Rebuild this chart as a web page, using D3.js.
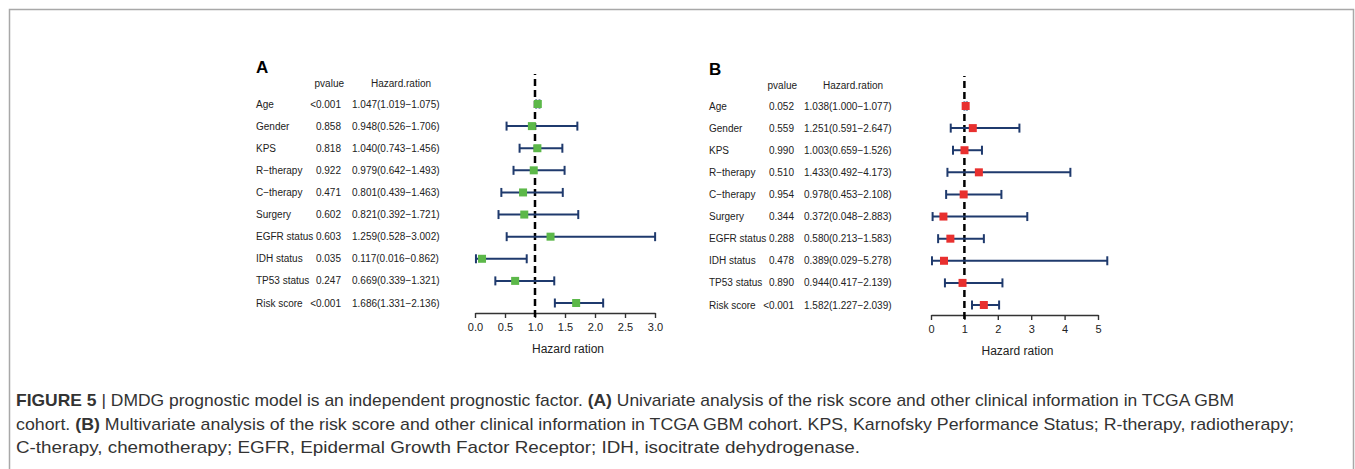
<!DOCTYPE html>
<html>
<head>
<meta charset="utf-8">
<script src="https://cdn.jsdelivr.net/npm/d3@7"></script>
<style>
  body { margin: 0; background: #fff; }
  svg { display: block; font-family: "Liberation Sans", Arial, sans-serif; }
</style>
</head>
<body>
<div id="chart"></div>
<script>
// row labels shared by both panels
const variables = ["Age", "Gender", "KPS", "R\u2212therapy", "C\u2212therapy", "Surgery",
  "EGFR status", "IDH status", "TP53 status", "Risk score"];

// panel A: univariate
const pvalA = ["<0.001", "0.858", "0.818", "0.922", "0.471", "0.602", "0.603", "0.035", "0.247", "<0.001"];
const hrA = [1.047, 0.948, 1.040, 0.979, 0.801, 0.821, 1.259, 0.117, 0.669, 1.686];
const lowA = [1.019, 0.526, 0.743, 0.642, 0.439, 0.392, 0.528, 0.016, 0.339, 1.331];
const highA = [1.075, 1.706, 1.456, 1.493, 1.463, 1.721, 3.002, 0.862, 1.321, 2.136];
const ticksA = [0, 0.5, 1.0, 1.5, 2.0, 2.5, 3.0];

// panel B: multivariate
const pvalB = ["0.052", "0.559", "0.990", "0.510", "0.954", "0.344", "0.288", "0.478", "0.890", "<0.001"];
const hrB = [1.038, 1.251, 1.003, 1.433, 0.978, 0.372, 0.580, 0.389, 0.944, 1.582];
const lowB = [1.000, 0.591, 0.659, 0.492, 0.453, 0.048, 0.213, 0.029, 0.417, 1.227];
const highB = [1.077, 2.647, 1.526, 4.173, 2.108, 2.883, 1.583, 5.278, 2.139, 2.039];
const ticksB = [0, 1, 2, 3, 4, 5];

const W = 1355, H = 469;
const navy = "#1f3a6d";

const svg = d3.select("#chart").append("svg")
  .attr("width", W)
  .attr("height", H);

// frame around figure (no bottom edge)
svg.append("path")
  .attr("d", `M9.5,${H} V9.5 H1353.5 V${H}`)
  .attr("fill", "none")
  .attr("stroke", "#a8a8a8")
  .attr("stroke-width", 1.5);

const drawPanel = (p) => {
  const g = svg.append("g");
  const y = d3.scalePoint(variables, [p.yTop, p.yBot]);
  const x = d3.scaleLinear().domain([p.ticks[0], p.ticks[p.ticks.length - 1]]).range(p.xRange);

  g.append("text")
    .attr("x", p.labelX).attr("y", p.yTop - 31)
    .attr("font-size", 17).attr("font-weight", "bold")
    .text(p.letter);

  // column headers
  g.append("text")
    .attr("x", p.pvalRight + 3).attr("y", p.yTop - 17)
    .attr("font-size", 10).attr("text-anchor", "end").attr("fill", "#222")
    .text("pvalue");
  g.append("text")
    .attr("x", p.hrX + 19).attr("y", p.yTop - 17)
    .attr("font-size", 10).attr("fill", "#222")
    .text("Hazard.ration");

  const rows = g.selectAll(".row").data(variables).enter().append("g").attr("class", "row");
  rows.append("text")
    .attr("x", p.labelX).attr("y", (d) => y(d) + 3.5)
    .attr("font-size", 10).attr("fill", "#222")
    .text((d) => d);
  rows.append("text")
    .attr("x", p.pvalRight).attr("y", (d) => y(d) + 3.5)
    .attr("font-size", 10).attr("text-anchor", "end").attr("fill", "#222")
    .text((d, i) => p.pval[i]);
  rows.append("text")
    .attr("x", p.hrX).attr("y", (d) => y(d) + 3.5)
    .attr("font-size", 10).attr("fill", "#222")
    .text((d, i) => `${p.hr[i].toFixed(3)}(${p.low[i].toFixed(3)}\u2212${p.high[i].toFixed(3)})`);

  // axis
  const axisY = p.yBot + 10;
  const axis = d3.axisBottom(x)
    .tickValues(p.ticks)
    .tickSize(5)
    .tickSizeOuter(0)
    .tickFormat(p.fmt);
  const ax = g.append("g").attr("transform", `translate(0,${axisY})`).call(axis);
  ax.select(".domain").attr("stroke", "#333").attr("stroke-width", 1.4);
  ax.selectAll(".tick line").attr("stroke", "#333").attr("stroke-width", 1.4);
  ax.selectAll(".tick text")
    .attr("font-size", 11).attr("fill", "#222")
    .attr("font-family", "Liberation Sans, Arial, sans-serif")
    .attr("dy", "0.95em");

  g.append("text")
    .attr("x", (x.range()[0] + x.range()[1]) / 2 + 3)
    .attr("y", axisY + 40)
    .attr("font-size", 12).attr("text-anchor", "middle").attr("fill", "#222")
    .text("Hazard ration");

  // reference line at HR = 1
  g.append("line")
    .attr("x1", x(1)).attr("x2", x(1))
    .attr("y1", p.yTop - 30).attr("y2", axisY + 4)
    .attr("stroke", "#000").attr("stroke-width", 2.5)
    .attr("stroke-dasharray", "7,4")
    .attr("stroke-dashoffset", 6);

  // confidence intervals
  const ci = g.selectAll(".ci").data(variables).enter().append("g").attr("class", "ci")
    .attr("stroke", navy).attr("stroke-width", 2).attr("fill", "none");
  ci.append("line")
    .attr("x1", (d, i) => x(p.low[i])).attr("x2", (d, i) => x(p.high[i]))
    .attr("y1", (d) => y(d)).attr("y2", (d) => y(d));
  ci.append("line")
    .attr("x1", (d, i) => x(p.low[i])).attr("x2", (d, i) => x(p.low[i]))
    .attr("y1", (d) => y(d) - 4.5).attr("y2", (d) => y(d) + 4.5);
  ci.append("line")
    .attr("x1", (d, i) => x(p.high[i])).attr("x2", (d, i) => x(p.high[i]))
    .attr("y1", (d) => y(d) - 4.5).attr("y2", (d) => y(d) + 4.5);

  // point estimates
  const s = 8;
  g.selectAll(".pt").data(variables).enter().append("rect")
    .attr("x", (d, i) => x(p.hr[i]) - s / 2)
    .attr("y", (d) => y(d) - s / 2)
    .attr("width", s).attr("height", s)
    .attr("fill", p.color);
};

drawPanel({
  letter: "A", labelX: 256, pvalRight: 341, hrX: 352,
  yTop: 104, yBot: 303, xRange: [475, 655],
  ticks: ticksA, fmt: d3.format(".1f"),
  pval: pvalA, hr: hrA, low: lowA, high: highA, color: "#5cb849"
});

drawPanel({
  letter: "B", labelX: 709, pvalRight: 794, hrX: 804,
  yTop: 106, yBot: 305, xRange: [931, 1098],
  ticks: ticksB, fmt: d3.format("d"),
  pval: pvalB, hr: hrB, low: lowB, high: highB, color: "#e8302f"
});

// caption
const caption = [
  [["FIGURE 5", true], [" | DMDG prognostic model is an independent prognostic factor. ", false], ["(A)", true],
   [" Univariate analysis of the risk score and other clinical information in TCGA GBM", false]],
  [["cohort. ", false], ["(B)", true],
   [" Multivariate analysis of the risk score and other clinical information in TCGA GBM cohort. KPS, Karnofsky Performance Status; R-therapy, radiotherapy;", false]],
  [["C-therapy, chemotherapy; EGFR, Epidermal Growth Factor Receptor; IDH, isocitrate dehydrogenase.", false]]
];
const captionWidths = [1218, 1278, 844];

caption.forEach((parts, li) => {
  const t = svg.append("text")
    .attr("x", 16).attr("y", 406 + li * 23.5)
    .attr("font-size", 17).attr("fill", "#333")
    .attr("textLength", captionWidths[li])
    .attr("lengthAdjust", "spacingAndGlyphs");
  parts.forEach(([str, bold]) => {
    t.append("tspan")
      .attr("font-weight", bold ? "bold" : "normal")
      .text(str);
  });
});
</script>
</body>
</html>
